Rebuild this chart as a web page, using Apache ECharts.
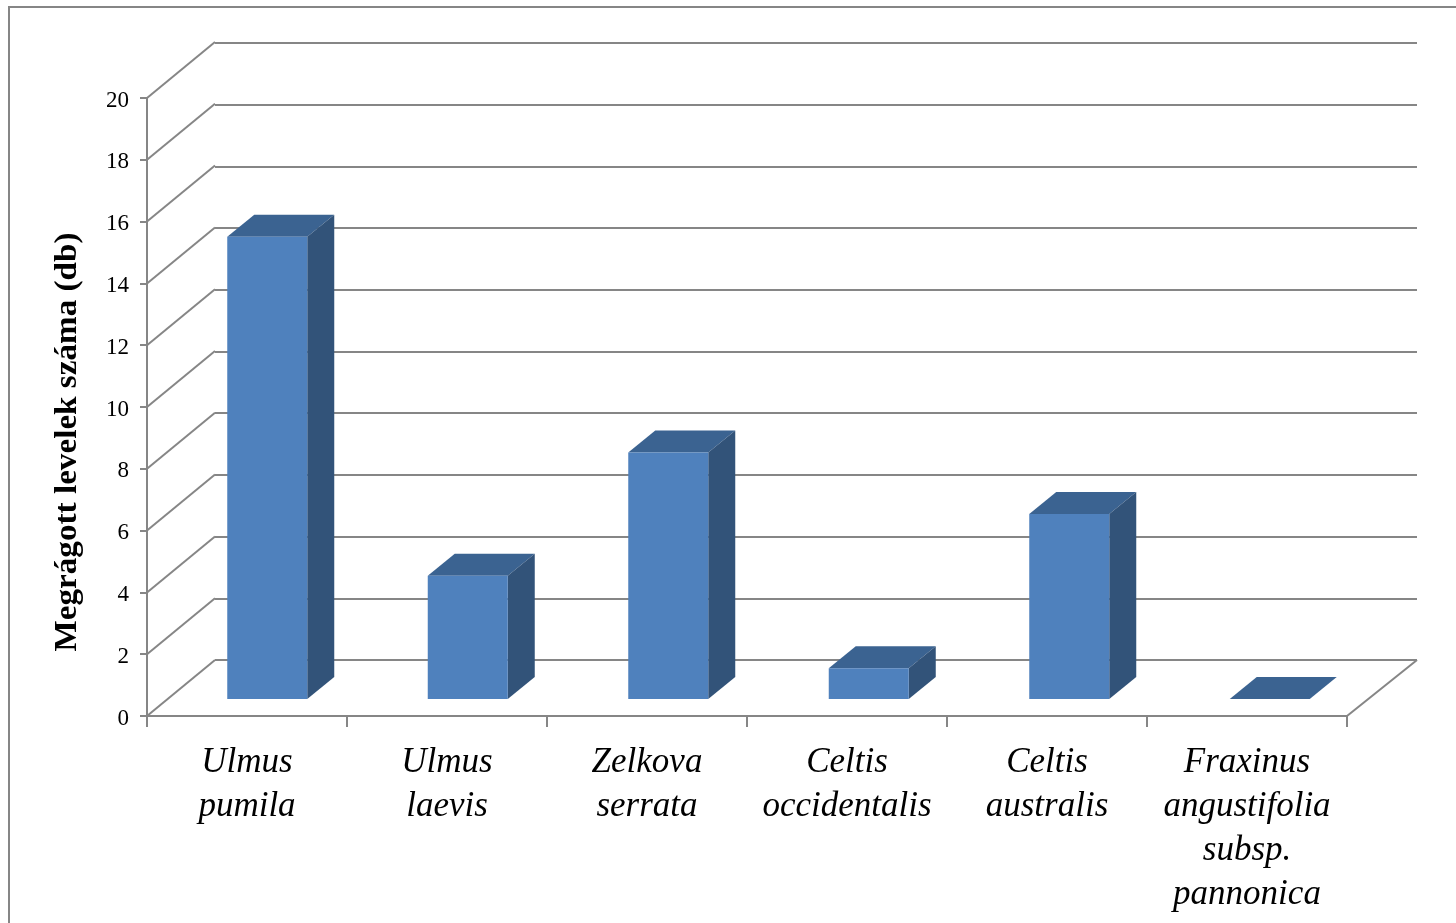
<!DOCTYPE html>
<html>
<head>
<meta charset="utf-8">
<title>Megrágott levelek száma</title>
<style>
  html, body { margin: 0; padding: 0; background: #fff; overflow: hidden; }
  #chart { width: 1456px; height: 923px; }
</style>
<script src="https://cdn.jsdelivr.net/npm/echarts@6/dist/echarts.min.js"></script>
</head>
<body>
<div id="chart"></div>
<script>
// Leaf counts per tree species
const categories = [
  'Ulmus\npumila',
  'Ulmus\nlaevis',
  'Zelkova\nserrata',
  'Celtis\noccidentalis',
  'Celtis\naustralis',
  'Fraxinus\nangustifolia\nsubsp.\npannonica'
];
const leafCounts = [15, 4, 8, 1, 6, 0];
const axisTicks = [0, 2, 4, 6, 8, 10, 12, 14, 16, 18, 20];
const axisTitle = 'Megrágott levelek száma (db)';

// Oblique projection of the chart box
const WALL_DX = 68, WALL_DY = -56, WALL_DX_RIGHT = 70;
const BAR_DEPTH_DX = 27, BAR_DEPTH_DY = -22;

const LINE = '#868686';
const FRONT = '#4f81bd', TOP = '#3b6391', SIDE = '#325379';
const SERIF = '"Liberation Serif", serif';

function poly(points, fill) {
  return { type: 'polygon', shape: { points }, style: { fill, stroke: null } };
}

function renderBar(params, api) {
  const base = api.coord([api.value(0), 0]);
  const top = api.coord([api.value(0), api.value(1)]);
  const w = 80;
  const x0 = base[0] - w / 2, x1 = x0 + w;
  const yb = base[1], yt = top[1];
  const dx = BAR_DEPTH_DX, dy = BAR_DEPTH_DY;
  const faces = [
    poly([[x0, yt], [x0 + dx, yt + dy], [x1 + dx, yt + dy], [x1, yt]], TOP)
  ];
  if (yb - yt > 0.5) {
    faces.push(poly([[x1, yt], [x1 + dx, yt + dy], [x1 + dx, yb + dy], [x1, yb]], SIDE));
    faces.push(poly([[x0, yt], [x1, yt], [x1, yb], [x0, yb]], FRONT));
  }
  return { type: 'group', children: faces };
}

// Side wall rungs joining the front axis to the back wall gridlines
function renderRung(params, api) {
  const p = api.coord([0, api.value(0)]);
  const x = p[0] - api.size([1, 0])[0] / 2;
  return {
    type: 'line',
    shape: { x1: x, y1: p[1], x2: x + WALL_DX, y2: p[1] + WALL_DY },
    style: { stroke: LINE, lineWidth: 2 }
  };
}

// Right edge of the floor
function renderFloorEdge(params, api) {
  const p = api.coord([categories.length - 1, 0]);
  const x = p[0] + api.size([1, 0])[0] / 2;
  return {
    type: 'line',
    shape: { x1: x, y1: p[1], x2: x + WALL_DX_RIGHT, y2: p[1] + WALL_DY },
    style: { stroke: LINE, lineWidth: 2 }
  };
}

const chart = echarts.init(document.getElementById('chart'), null, { renderer: 'canvas' });
chart.setOption({
  animation: false,
  backgroundColor: '#fff',
  graphic: [
    {
      type: 'rect', z: -10, silent: true,
      shape: { x: 9, y: 7, width: 1600, height: 1100 },
      style: { fill: '#fff', stroke: LINE, lineWidth: 2 }
    },
    {
      type: 'text', z: 10, silent: true,
      x: 68, y: 442, rotation: Math.PI / 2, scaleX: 1.07,
      style: {
        text: axisTitle, font: 'bold 31px ' + SERIF,
        fill: '#000', align: 'center', verticalAlign: 'middle'
      }
    }
  ],
  grid: [
    { left: 147, top: 98, width: 1200, height: 618 },   // front axis plane
    { left: 215, top: 43, width: 1202, height: 617 },   // back wall
    { left: 167, top: 82.5, width: 1203, height: 616.5 } // plane of the bars
  ],
  xAxis: [
    {
      type: 'category', gridIndex: 0, data: categories,
      axisLine: { lineStyle: { color: LINE, width: 2 } },
      axisTick: { show: true, length: 11, alignWithLabel: false, lineStyle: { color: LINE, width: 2 } },
      axisLabel: {
        interval: 0, margin: 25, color: '#000', fontFamily: SERIF,
        fontStyle: 'italic', fontSize: 35, lineHeight: 44
      }
    },
    { type: 'category', gridIndex: 1, data: categories, show: false },
    { type: 'category', gridIndex: 2, data: categories, show: false }
  ],
  yAxis: [
    {
      type: 'value', gridIndex: 0, min: 0, max: 20, interval: 2,
      axisLine: { show: true, lineStyle: { color: LINE, width: 2 } },
      axisTick: { show: true, length: 7, lineStyle: { color: LINE, width: 2 } },
      splitLine: { show: false },
      axisLabel: {
        margin: 18, color: '#000', fontFamily: SERIF, fontSize: 23,
        verticalAlign: 'top', lineHeight: 5
      }
    },
    {
      type: 'value', gridIndex: 1, min: 0, max: 20, interval: 2,
      axisLine: { show: false }, axisTick: { show: false }, axisLabel: { show: false },
      splitLine: { show: true, lineStyle: { color: LINE, width: 2 } }
    },
    { type: 'value', gridIndex: 2, min: 0, max: 20, interval: 2, show: false, splitLine: { show: false } }
  ],
  series: [
    {
      type: 'custom', xAxisIndex: 0, yAxisIndex: 0, silent: true, z: 1,
      renderItem: renderRung, data: axisTicks.map(v => [v]),
      encode: { y: 0 }, clip: false
    },
    {
      type: 'custom', xAxisIndex: 0, yAxisIndex: 0, silent: true, z: 1,
      renderItem: renderFloorEdge, data: [[0]], clip: false
    },
    {
      type: 'custom', xAxisIndex: 2, yAxisIndex: 2, z: 3,
      renderItem: renderBar,
      data: leafCounts.map((v, i) => [i, v]),
      encode: { x: 0, y: 1 }, clip: false
    }
  ]
});
</script>
</body>
</html>
